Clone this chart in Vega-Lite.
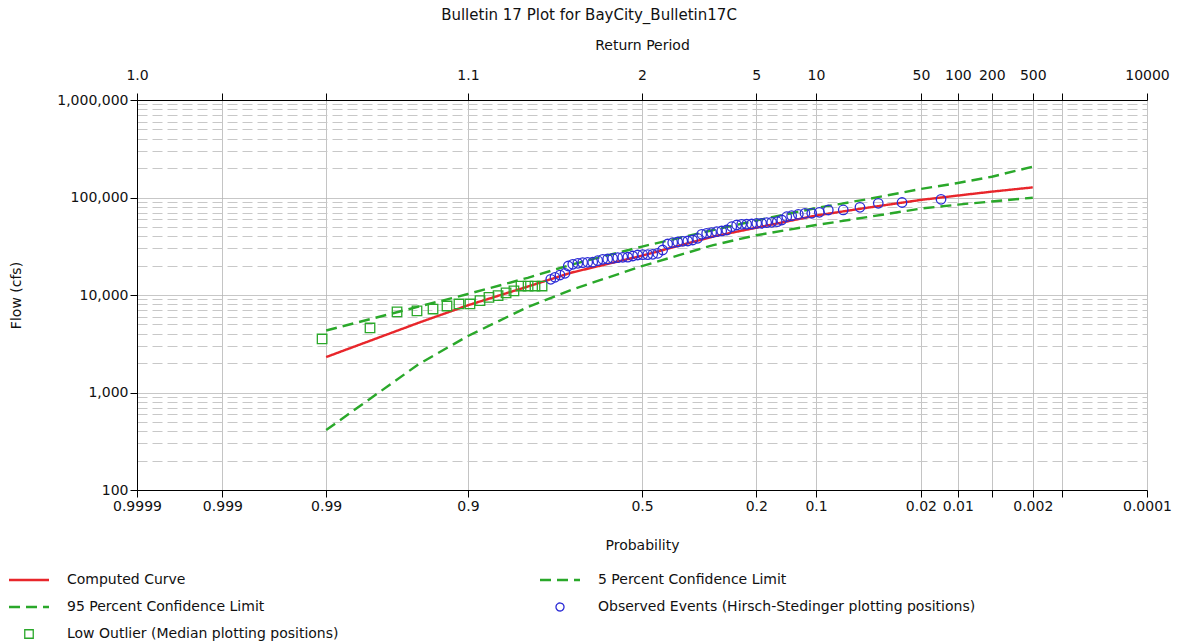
{
  "$schema": "https://vega.github.io/schema/vega-lite/v6.json",
  "width": 1010,
  "height": 390,
  "autosize": {"type": "none"},
  "padding": {"left": 137, "top": 100, "right": 31, "bottom": 154},
  "background": "white",
  "config": {
    "font": "DejaVu Sans",
    "view": {"stroke": null},
    "axis": {
      "domainColor": "#000000",
      "tickColor": "#000000",
      "labelColor": "#111111",
      "titleColor": "#111111",
      "labelFont": "DejaVu Sans",
      "titleFont": "DejaVu Sans",
      "labelFontSize": 14,
      "titleFontSize": 14,
      "titleFontWeight": "normal",
      "gridColor": "#c4c4c4",
      "gridWidth": 1,
      "tickSize": 7,
      "labelOverlap": false,
      "labelFlush": false
    },
    "legend": {
      "labelFont": "DejaVu Sans",
      "labelFontSize": 14,
      "labelColor": "#111111"
    }
  },
  "title": {
    "text": "Bulletin 17 Plot for BayCity_Bulletin17C",
    "font": "DejaVu Sans",
    "fontSize": 15,
    "fontWeight": "normal",
    "color": "#111111",
    "anchor": "middle",
    "dx": -53,
    "offset": 15
  },
  "datasets": {
    "curves": [
      {"series": "Computed Curve", "z": -2.326, "flow": 2310},
      {"series": "Computed Curve", "z": -1.645, "flow": 5190},
      {"series": "Computed Curve", "z": -1.2816, "flow": 7850},
      {"series": "Computed Curve", "z": -0.8416, "flow": 12200},
      {"series": "Computed Curve", "z": -0.5244, "flow": 16900},
      {"series": "Computed Curve", "z": 0, "flow": 25300},
      {"series": "Computed Curve", "z": 0.5244, "flow": 39800},
      {"series": "Computed Curve", "z": 0.8416, "flow": 49000},
      {"series": "Computed Curve", "z": 1.2816, "flow": 65300},
      {"series": "Computed Curve", "z": 1.645, "flow": 78000},
      {"series": "Computed Curve", "z": 2.054, "flow": 94500},
      {"series": "Computed Curve", "z": 2.326, "flow": 104700},
      {"series": "Computed Curve", "z": 2.576, "flow": 114800},
      {"series": "Computed Curve", "z": 2.878, "flow": 127000},
      {"series": "5 Percent Confidence Limit", "z": -2.326, "flow": 4325},
      {"series": "5 Percent Confidence Limit", "z": -1.645, "flow": 7600},
      {"series": "5 Percent Confidence Limit", "z": -1.2816, "flow": 10240},
      {"series": "5 Percent Confidence Limit", "z": -0.8416, "flow": 15000},
      {"series": "5 Percent Confidence Limit", "z": -0.5244, "flow": 20400},
      {"series": "5 Percent Confidence Limit", "z": 0, "flow": 31400},
      {"series": "5 Percent Confidence Limit", "z": 0.5244, "flow": 46400},
      {"series": "5 Percent Confidence Limit", "z": 0.8416, "flow": 58100},
      {"series": "5 Percent Confidence Limit", "z": 1.2816, "flow": 78000},
      {"series": "5 Percent Confidence Limit", "z": 1.645, "flow": 95300},
      {"series": "5 Percent Confidence Limit", "z": 2.054, "flow": 122300},
      {"series": "5 Percent Confidence Limit", "z": 2.326, "flow": 140900},
      {"series": "5 Percent Confidence Limit", "z": 2.576, "flow": 163400},
      {"series": "5 Percent Confidence Limit", "z": 2.878, "flow": 207000},
      {"series": "95 Percent Confidence Limit", "z": -2.326, "flow": 412},
      {"series": "95 Percent Confidence Limit", "z": -1.645, "flow": 1950},
      {"series": "95 Percent Confidence Limit", "z": -1.2816, "flow": 3800},
      {"series": "95 Percent Confidence Limit", "z": -0.8416, "flow": 7530},
      {"series": "95 Percent Confidence Limit", "z": -0.5244, "flow": 11250},
      {"series": "95 Percent Confidence Limit", "z": 0, "flow": 19800},
      {"series": "95 Percent Confidence Limit", "z": 0.5244, "flow": 32500},
      {"series": "95 Percent Confidence Limit", "z": 0.8416, "flow": 41000},
      {"series": "95 Percent Confidence Limit", "z": 1.2816, "flow": 52200},
      {"series": "95 Percent Confidence Limit", "z": 1.645, "flow": 62500},
      {"series": "95 Percent Confidence Limit", "z": 2.054, "flow": 77000},
      {"series": "95 Percent Confidence Limit", "z": 2.326, "flow": 84500},
      {"series": "95 Percent Confidence Limit", "z": 2.576, "flow": 91000},
      {"series": "95 Percent Confidence Limit", "z": 2.878, "flow": 99500}
    ],
    "events": [
      {"series": "Low Outlier (Median plotting positions)", "z": -2.356, "flow": 3540},
      {"series": "Low Outlier (Median plotting positions)", "z": -2.003, "flow": 4590},
      {"series": "Low Outlier (Median plotting positions)", "z": -1.804, "flow": 6700},
      {"series": "Low Outlier (Median plotting positions)", "z": -1.657, "flow": 6860},
      {"series": "Low Outlier (Median plotting positions)", "z": -1.539, "flow": 7180},
      {"series": "Low Outlier (Median plotting positions)", "z": -1.436, "flow": 7710},
      {"series": "Low Outlier (Median plotting positions)", "z": -1.348, "flow": 8090},
      {"series": "Low Outlier (Median plotting positions)", "z": -1.267, "flow": 8090},
      {"series": "Low Outlier (Median plotting positions)", "z": -1.193, "flow": 8750},
      {"series": "Low Outlier (Median plotting positions)", "z": -1.127, "flow": 9470},
      {"series": "Low Outlier (Median plotting positions)", "z": -1.06, "flow": 9840},
      {"series": "Low Outlier (Median plotting positions)", "z": -1.001, "flow": 10500},
      {"series": "Low Outlier (Median plotting positions)", "z": -0.943, "flow": 11000},
      {"series": "Low Outlier (Median plotting positions)", "z": -0.891, "flow": 12360},
      {"series": "Low Outlier (Median plotting positions)", "z": -0.839, "flow": 12360},
      {"series": "Low Outlier (Median plotting positions)", "z": -0.788, "flow": 12360},
      {"series": "Low Outlier (Median plotting positions)", "z": -0.736, "flow": 12360},
      {"series": "Observed Events (Hirsch-Stedinger plotting positions)", "z": -0.672, "flow": 14490},
      {"series": "Observed Events (Hirsch-Stedinger plotting positions)", "z": -0.641, "flow": 15190},
      {"series": "Observed Events (Hirsch-Stedinger plotting positions)", "z": -0.604, "flow": 16030},
      {"series": "Observed Events (Hirsch-Stedinger plotting positions)", "z": -0.567, "flow": 16690},
      {"series": "Observed Events (Hirsch-Stedinger plotting positions)", "z": -0.543, "flow": 19830},
      {"series": "Observed Events (Hirsch-Stedinger plotting positions)", "z": -0.51, "flow": 20650},
      {"series": "Observed Events (Hirsch-Stedinger plotting positions)", "z": -0.473, "flow": 21140},
      {"series": "Observed Events (Hirsch-Stedinger plotting positions)", "z": -0.437, "flow": 21450},
      {"series": "Observed Events (Hirsch-Stedinger plotting positions)", "z": -0.4, "flow": 21650},
      {"series": "Observed Events (Hirsch-Stedinger plotting positions)", "z": -0.363, "flow": 21700},
      {"series": "Observed Events (Hirsch-Stedinger plotting positions)", "z": -0.326, "flow": 22480},
      {"series": "Observed Events (Hirsch-Stedinger plotting positions)", "z": -0.289, "flow": 23240},
      {"series": "Observed Events (Hirsch-Stedinger plotting positions)", "z": -0.253, "flow": 23400},
      {"series": "Observed Events (Hirsch-Stedinger plotting positions)", "z": -0.216, "flow": 23790},
      {"series": "Observed Events (Hirsch-Stedinger plotting positions)", "z": -0.179, "flow": 24130},
      {"series": "Observed Events (Hirsch-Stedinger plotting positions)", "z": -0.142, "flow": 24360},
      {"series": "Observed Events (Hirsch-Stedinger plotting positions)", "z": -0.105, "flow": 24400},
      {"series": "Observed Events (Hirsch-Stedinger plotting positions)", "z": -0.068, "flow": 25120},
      {"series": "Observed Events (Hirsch-Stedinger plotting positions)", "z": -0.032, "flow": 25720},
      {"series": "Observed Events (Hirsch-Stedinger plotting positions)", "z": 0.005, "flow": 25900},
      {"series": "Observed Events (Hirsch-Stedinger plotting positions)", "z": 0.042, "flow": 25950},
      {"series": "Observed Events (Hirsch-Stedinger plotting positions)", "z": 0.079, "flow": 26150},
      {"series": "Observed Events (Hirsch-Stedinger plotting positions)", "z": 0.116, "flow": 26780},
      {"series": "Observed Events (Hirsch-Stedinger plotting positions)", "z": 0.152, "flow": 28940},
      {"series": "Observed Events (Hirsch-Stedinger plotting positions)", "z": 0.189, "flow": 33350},
      {"series": "Observed Events (Hirsch-Stedinger plotting positions)", "z": 0.226, "flow": 34390},
      {"series": "Observed Events (Hirsch-Stedinger plotting positions)", "z": 0.263, "flow": 34960},
      {"series": "Observed Events (Hirsch-Stedinger plotting positions)", "z": 0.3, "flow": 35550},
      {"series": "Observed Events (Hirsch-Stedinger plotting positions)", "z": 0.337, "flow": 35800},
      {"series": "Observed Events (Hirsch-Stedinger plotting positions)", "z": 0.373, "flow": 36650},
      {"series": "Observed Events (Hirsch-Stedinger plotting positions)", "z": 0.41, "flow": 38150},
      {"series": "Observed Events (Hirsch-Stedinger plotting positions)", "z": 0.44, "flow": 41950},
      {"series": "Observed Events (Hirsch-Stedinger plotting positions)", "z": 0.476, "flow": 42950},
      {"series": "Observed Events (Hirsch-Stedinger plotting positions)", "z": 0.513, "flow": 43550},
      {"series": "Observed Events (Hirsch-Stedinger plotting positions)", "z": 0.55, "flow": 44590},
      {"series": "Observed Events (Hirsch-Stedinger plotting positions)", "z": 0.587, "flow": 45330},
      {"series": "Observed Events (Hirsch-Stedinger plotting positions)", "z": 0.624, "flow": 46420},
      {"series": "Observed Events (Hirsch-Stedinger plotting positions)", "z": 0.661, "flow": 50170},
      {"series": "Observed Events (Hirsch-Stedinger plotting positions)", "z": 0.697, "flow": 52220},
      {"series": "Observed Events (Hirsch-Stedinger plotting positions)", "z": 0.734, "flow": 53100},
      {"series": "Observed Events (Hirsch-Stedinger plotting positions)", "z": 0.771, "flow": 53150},
      {"series": "Observed Events (Hirsch-Stedinger plotting positions)", "z": 0.808, "flow": 53470},
      {"series": "Observed Events (Hirsch-Stedinger plotting positions)", "z": 0.845, "flow": 54370},
      {"series": "Observed Events (Hirsch-Stedinger plotting positions)", "z": 0.881, "flow": 54400},
      {"series": "Observed Events (Hirsch-Stedinger plotting positions)", "z": 0.918, "flow": 55140},
      {"series": "Observed Events (Hirsch-Stedinger plotting positions)", "z": 0.955, "flow": 55670},
      {"series": "Observed Events (Hirsch-Stedinger plotting positions)", "z": 0.996, "flow": 56470},
      {"series": "Observed Events (Hirsch-Stedinger plotting positions)", "z": 1.029, "flow": 58770},
      {"series": "Observed Events (Hirsch-Stedinger plotting positions)", "z": 1.066, "flow": 63550},
      {"series": "Observed Events (Hirsch-Stedinger plotting positions)", "z": 1.102, "flow": 65070},
      {"series": "Observed Events (Hirsch-Stedinger plotting positions)", "z": 1.151, "flow": 67250},
      {"series": "Observed Events (Hirsch-Stedinger plotting positions)", "z": 1.2, "flow": 68860},
      {"series": "Observed Events (Hirsch-Stedinger plotting positions)", "z": 1.25, "flow": 68900},
      {"series": "Observed Events (Hirsch-Stedinger plotting positions)", "z": 1.306, "flow": 70520},
      {"series": "Observed Events (Hirsch-Stedinger plotting positions)", "z": 1.372, "flow": 74440},
      {"series": "Observed Events (Hirsch-Stedinger plotting positions)", "z": 1.482, "flow": 74500},
      {"series": "Observed Events (Hirsch-Stedinger plotting positions)", "z": 1.605, "flow": 79330},
      {"series": "Observed Events (Hirsch-Stedinger plotting positions)", "z": 1.74, "flow": 87190},
      {"series": "Observed Events (Hirsch-Stedinger plotting positions)", "z": 1.915, "flow": 88850},
      {"series": "Observed Events (Hirsch-Stedinger plotting positions)", "z": 2.202, "flow": 95830}
    ]
  },
  "encoding": {
    "x": {
      "field": "z",
      "type": "quantitative",
      "scale": {"domain": [-3.719, 3.719], "nice": false, "zero": false},
      "axis": {
        "orient": "bottom",
        "title": "Probability",
        "titlePadding": 25,
        "grid": true,
        "values": [-3.719, -3.09, -2.326, -1.2816, 0, 0.8416, 1.2816, 2.054, 2.326, 2.576, 2.878, 3.09, 3.719],
        "labelExpr": "datum.value < -3.5 ? '0.9999' : datum.value < -3 ? '0.999' : datum.value < -2 ? '0.99' : datum.value < -1 ? '0.9' : datum.value < 0.5 ? '0.5' : datum.value < 1 ? '0.2' : datum.value < 1.5 ? '0.1' : datum.value < 2.2 ? '0.02' : datum.value < 2.4 ? '0.01' : datum.value < 2.7 ? '' : datum.value < 2.95 ? '0.002' : datum.value < 3.3 ? '' : '0.0001'"
      }
    },
    "y": {
      "field": "flow",
      "type": "quantitative",
      "scale": {"type": "log", "domain": [100, 1000000], "nice": false},
      "axis": {
        "title": "Flow (cfs)",
        "titleX": -114,
        "values": [100, 200, 300, 400, 500, 600, 700, 800, 900, 1000, 2000, 3000, 4000, 5000, 6000, 7000, 8000, 9000, 10000, 20000, 30000, 40000, 50000, 60000, 70000, 80000, 90000, 100000, 200000, 300000, 400000, 500000, 600000, 700000, 800000, 900000, 1000000],
        "labelExpr": "indexof([100, 1000, 10000, 100000, 1000000], datum.value) >= 0 ? format(datum.value, ',') : ''",
        "gridDash": {"condition": {"test": "indexof([100, 1000, 10000, 100000, 1000000], datum.value) >= 0", "value": [1, 0]}, "value": [10, 5]},
        "gridColor": {"condition": {"test": "indexof([100, 1000, 10000, 100000, 1000000], datum.value) >= 0", "value": "#b4b4b4"}, "value": "#c8c8c8"},
        "tickOpacity": {"condition": {"test": "indexof([100, 1000, 10000, 100000, 1000000], datum.value) >= 0", "value": 1}, "value": 0}
      }
    }
  },
  "layer": [
    {
      "data": {"name": "curves"},
      "mark": {"type": "line", "strokeWidth": 2.4},
      "encoding": {
        "color": {
          "field": "series",
          "type": "nominal",
          "scale": {
            "domain": ["Computed Curve", "5 Percent Confidence Limit", "95 Percent Confidence Limit", "Observed Events (Hirsch-Stedinger plotting positions)", "Low Outlier (Median plotting positions)"],
            "range": ["#e8262b", "#2aa82a", "#2aa82a", "#2b2bd6", "#2aa82a"]
          },
          "legend": {
            "title": null,
            "orient": "none",
            "direction": "horizontal",
            "legendX": -115,
            "legendY": 473,
            "columns": 2,
            "columnPadding": 196,
            "rowPadding": 13,
            "symbolSize": 1600,
            "symbolStrokeWidth": 2.4,
            "labelOffset": 31,
            "labelLimit": 0,
            "encode": {
              "symbols": {
                "update": {
                  "size": {"signal": "datum.value === 'Observed Events (Hirsch-Stedinger plotting positions)' ? 64 : datum.value === 'Low Outlier (Median plotting positions)' ? 72 : 1600"},
                  "strokeWidth": {"signal": "datum.value === 'Observed Events (Hirsch-Stedinger plotting positions)' || datum.value === 'Low Outlier (Median plotting positions)' ? 1.3 : 2.4"}
                }
              }
            }
          }
        },
        "strokeDash": {
          "field": "series",
          "type": "nominal",
          "scale": {
            "domain": ["Computed Curve", "5 Percent Confidence Limit", "95 Percent Confidence Limit", "Observed Events (Hirsch-Stedinger plotting positions)", "Low Outlier (Median plotting positions)"],
            "range": [[1, 0], [11, 6], [11, 6], [1, 0], [1, 0]]
          }
        },
        "detail": {"field": "series"}
      }
    },
    {
      "data": {"name": "events"},
      "mark": {"type": "point", "filled": false, "strokeWidth": 1.3, "size": 90, "opacity": 1},
      "encoding": {
        "x": {
          "field": "z",
          "type": "quantitative",
          "axis": {
            "orient": "top",
            "title": "Return Period",
            "titlePadding": 16,
            "labelPadding": 11,
            "grid": false,
            "values": [-3.719, -3.09, -2.326, -1.2816, 0, 0.8416, 1.2816, 2.054, 2.326, 2.576, 2.878, 3.09, 3.719],
            "labelExpr": "datum.value < -3.5 ? '1.0' : datum.value < -2 ? '' : datum.value < -1 ? '1.1' : datum.value < 0.5 ? '2' : datum.value < 1 ? '5' : datum.value < 1.5 ? '10' : datum.value < 2.2 ? '50' : datum.value < 2.4 ? '100' : datum.value < 2.7 ? '200' : datum.value < 2.95 ? '500' : datum.value < 3.3 ? '' : '10000'"
          }
        },
        "color": {"field": "series", "type": "nominal"},
        "shape": {
          "field": "series",
          "type": "nominal",
          "scale": {
            "domain": ["Computed Curve", "5 Percent Confidence Limit", "95 Percent Confidence Limit", "Observed Events (Hirsch-Stedinger plotting positions)", "Low Outlier (Median plotting positions)"],
            "range": ["stroke", "stroke", "stroke", "circle", "square"]
          }
        }
      }
    }
  ],
  "resolve": {"axis": {"x": "independent"}}
}
